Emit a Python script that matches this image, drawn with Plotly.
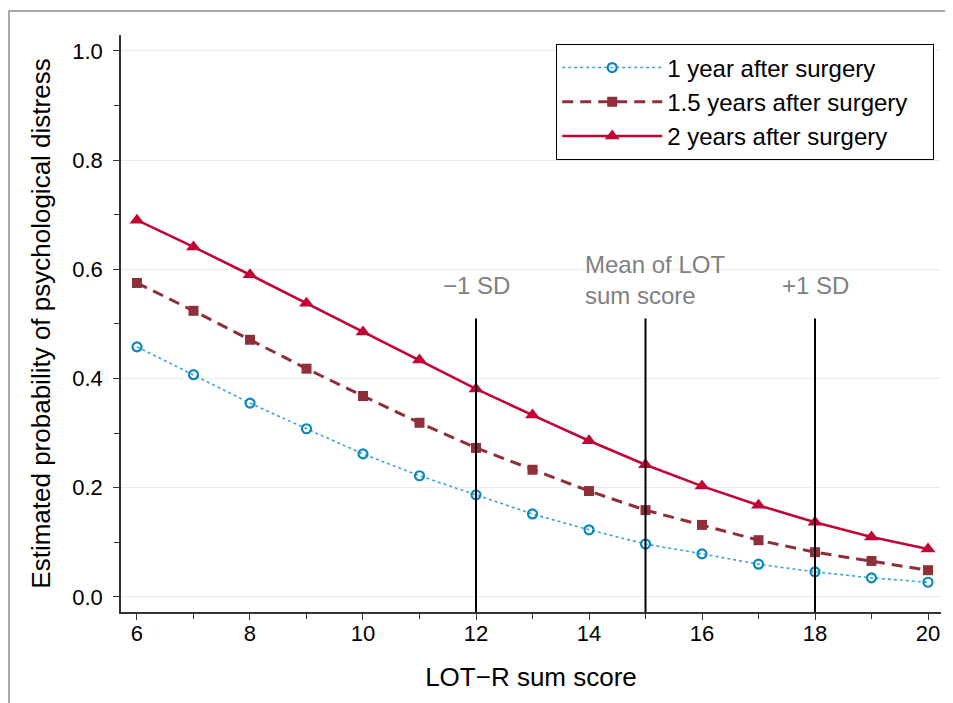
import plotly.graph_objects as go

lot_scores = list(range(6, 21))
p_1yr = [0.458, 0.407, 0.355, 0.308, 0.262, 0.222, 0.187, 0.152, 0.123, 0.097, 0.079, 0.060, 0.046, 0.035, 0.027]
p_15yr = [0.575, 0.524, 0.471, 0.418, 0.368, 0.319, 0.273, 0.233, 0.194, 0.159, 0.132, 0.104, 0.082, 0.066, 0.049]
p_2yr = [0.690, 0.641, 0.590, 0.538, 0.485, 0.434, 0.381, 0.333, 0.286, 0.242, 0.203, 0.168, 0.137, 0.110, 0.088]

ref_positions = [12, 15, 18]
ref_labels = ["\u22121 SD", "Mean of LOT<br>sum score", "+1 SD"]
ref_line_top = 0.51

series_names = ["1 year after surgery", "1.5 years after surgery", "2 years after surgery"]
PAD = "\u00a0\u00a0\u00a0"

FONT = "Liberation Sans, Arial, Helvetica, sans-serif"

fig = go.Figure()

fig.add_trace(go.Scatter(
    x=lot_scores, y=p_1yr, name=series_names[0], mode="lines+markers",
    line=dict(color="#3fa3cf", width=1.6, dash="dot"),
    marker=dict(symbol="circle-open", size=9, color="#0a88bd", line=dict(width=2.2, color="#0a88bd")),
))
fig.add_trace(go.Scatter(
    x=lot_scores, y=p_15yr, name=series_names[1] + PAD, mode="lines+markers",
    line=dict(color="#8e2f3a", width=3, dash="11px,7px"),
    marker=dict(symbol="square", size=10, color="#8e2f3a"),
))
fig.add_trace(go.Scatter(
    x=lot_scores, y=p_2yr, name=series_names[2], mode="lines+markers",
    line=dict(color="#c10537", width=2.6),
    marker=dict(symbol="triangle-up", size=13, color="#c10537"),
))

for xp in ref_positions:
    fig.add_shape(type="line", xref="x", yref="y", x0=xp, x1=xp, y0=-0.0275, y1=ref_line_top,
                  line=dict(color="black", width=2), layer="above")

ann_font = dict(size=24, color="#808080", family=FONT)
fig.add_annotation(x=ref_positions[0], y=0.571, xref="x", yref="y", text=ref_labels[0],
                   showarrow=False, font=ann_font, xanchor="center")
fig.add_annotation(x=ref_positions[1], y=0.58, xref="x", yref="y", text=ref_labels[1],
                   showarrow=False, font=ann_font, xanchor="left", xshift=-63, align="left")
fig.add_annotation(x=ref_positions[2], y=0.571, xref="x", yref="y", text=ref_labels[2],
                   showarrow=False, font=ann_font, xanchor="center")

# outer frame
fig.add_shape(type="rect", xref="paper", yref="paper", x0=-0.1366, x1=1.2, y0=-0.4, y1=1.0416,
              line=dict(color="#a8a8a8", width=2), layer="below")

fig.update_layout(
    width=945, height=695,
    margin=dict(l=113, r=12, t=27, b=91),
    paper_bgcolor="white", plot_bgcolor="white",
    font=dict(family=FONT, size=22, color="black"),
    showlegend=True,
    legend=dict(x=0.5305, y=0.984, xanchor="left", yanchor="top",
                bordercolor="black", borderwidth=1.2, bgcolor="white",
                font=dict(size=24, family=FONT), itemwidth=100,
                tracegroupgap=0),
    xaxis=dict(range=[5.717, 20.23], tickmode="array", tickvals=[6, 8, 10, 12, 14, 16, 18, 20],
               ticks="outside", ticklen=6, tickcolor="#333", tickwidth=1.3,
               showline=True, linecolor="#333", linewidth=1.5, showgrid=False, zeroline=False,
               minor=dict(tickvals=[7, 9, 11, 13, 15, 17, 19], ticks="outside", ticklen=5, tickcolor="#333"),
               title=dict(text="LOT\u2212R sum score", font=dict(size=26), standoff=23),
               tickfont=dict(size=22), ticklabelstandoff=-5),
    yaxis=dict(range=[-0.0275, 1.029], tickmode="array", tickvals=[0, 0.2, 0.4, 0.6, 0.8, 1.0],
               ticktext=["0.0", "0.2", "0.4", "0.6", "0.8", "1.0"],
               ticks="outside", ticklen=6, tickcolor="#333", tickwidth=1.3,
               showline=True, linecolor="#333", linewidth=1.5, showgrid=True, gridcolor="#ebebeb",
               gridwidth=1, zeroline=False,
               minor=dict(tickvals=[0.1, 0.3, 0.5, 0.7, 0.9], ticks="outside", ticklen=5, tickcolor="#333",
                          showgrid=False),
               title=dict(text="Estimated probability of psychological distress", font=dict(size=26), standoff=14),
               tickfont=dict(size=22), ticklabelstandoff=6),
)

fig.write_html("out.html")
